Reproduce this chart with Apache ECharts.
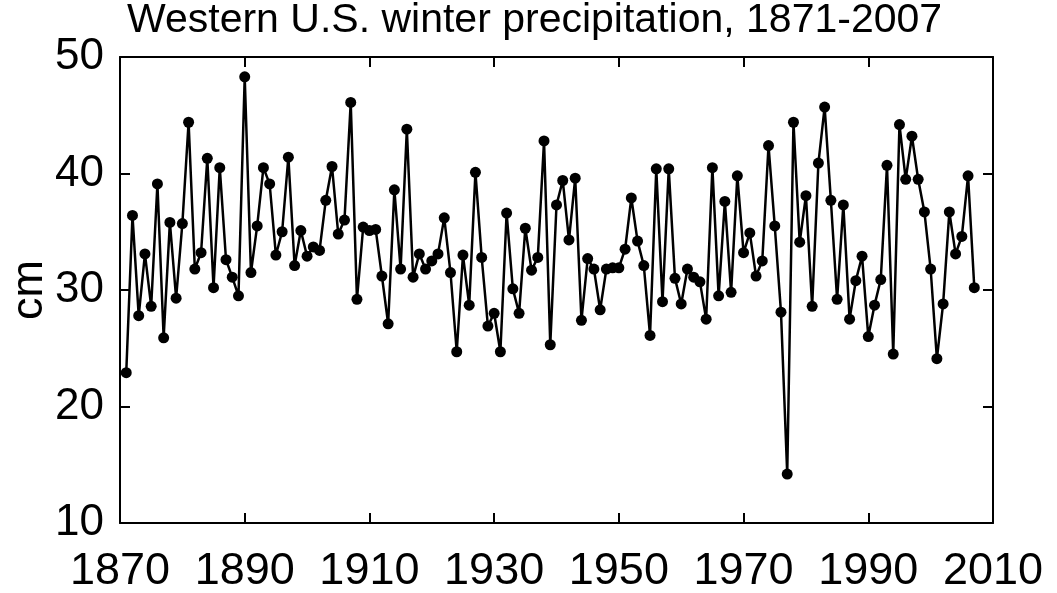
<!DOCTYPE html>
<html>
<head>
<meta charset="utf-8">
<script src="https://cdn.jsdelivr.net/npm/echarts@6/dist/echarts.min.js"></script>
<style>
  html, body { margin: 0; padding: 0; background: #fff; }
  #chart { width: 1057px; height: 593px; }
</style>
</head>
<body>
<div id="chart"></div>
<script>
// winter precipitation (cm), one value per year starting 1871
const startYear = 1871
const precip = [
  22.9, 36.4, 27.8, 33.1, 28.6, 39.1, 25.9, 35.8, 29.3, 35.7,
  44.4, 31.8, 33.2, 41.3, 30.2, 40.5, 32.6, 31.1, 29.5, 48.3,
  31.5, 35.5, 40.5, 39.1, 33.0, 35.0, 41.4, 32.1, 35.1, 32.9,
  33.7, 33.4, 37.7, 40.6, 34.8, 36.0, 46.1, 29.2, 35.4, 35.1,
  35.2, 31.2, 27.1, 38.6, 31.8, 43.8, 31.1, 33.1, 31.8, 32.5,
  33.1, 36.2, 31.5, 24.7, 33.0, 28.7, 40.1, 32.8, 26.9, 28.0,
  24.7, 36.6, 30.1, 28.0, 35.3, 31.7, 32.8, 42.8, 25.3, 37.3,
  39.4, 34.3, 39.6, 27.4, 32.7, 31.8, 28.3, 31.8, 31.9, 31.9,
  33.5, 37.9, 34.2, 32.1, 26.1, 40.4, 29.0, 40.4, 31.0, 28.8,
  31.8, 31.1, 30.7, 27.5, 40.5, 29.5, 37.6, 29.8, 39.8, 33.2,
  34.9, 31.2, 32.5, 42.4, 35.5, 28.1, 14.2, 44.4, 34.1, 38.1,
  28.6, 40.9, 45.7, 37.7, 29.2, 37.3, 27.5, 30.8, 32.9, 26.0,
  28.7, 30.9, 40.7, 24.5, 44.2, 39.5, 43.2, 39.5, 36.7, 31.8,
  24.1, 28.8, 36.7, 33.1, 34.6, 39.8, 30.2
]
const years = precip.map((v, i) => startYear + i)
const xTicks = { min: 1870, max: 2010, interval: 20 }
const yTicks = { min: 10, max: 50, interval: 10 }

const font = "'Liberation Sans', Arial, sans-serif"
const chart = echarts.init(document.getElementById('chart'), null, { renderer: 'canvas' })

const lineStyle = { color: '#000', width: 2 }
const axisBase = {
  type: 'value',
  axisLine: { show: true, onZero: false, lineStyle },
  axisTick: { show: true, inside: true, length: 10, lineStyle },
  splitLine: { show: false }
}
const plain = v => String(v)

chart.setOption({
  animation: false,
  backgroundColor: '#fff',
  title: {
    text: 'Western U.S. winter precipitation, 1871-2007',
    left: 122,
    top: -5,
    textStyle: { fontFamily: font, fontSize: 41, fontWeight: 'normal', color: '#000' }
  },
  grid: { left: 120, right: 64, top: 57, bottom: 70, containLabel: false, outerBoundsMode: 'none' },
  xAxis: [
    Object.assign({}, axisBase, {
      position: 'bottom',
      min: xTicks.min, max: xTicks.max, interval: xTicks.interval,
      axisLabel: { fontFamily: font, fontSize: 45, color: '#000', margin: 26, formatter: plain }
    }),
    Object.assign({}, axisBase, {
      position: 'top',
      min: xTicks.min, max: xTicks.max, interval: xTicks.interval,
      axisLabel: { show: false }
    })
  ],
  yAxis: [
    Object.assign({}, axisBase, {
      position: 'left',
      min: yTicks.min, max: yTicks.max, interval: yTicks.interval,
      name: 'cm',
      nameLocation: 'middle',
      nameGap: 68,
      nameMoveOverlap: false,
      nameTextStyle: { fontFamily: font, fontSize: 45, color: '#000' },
      axisLabel: { fontFamily: font, fontSize: 44, color: '#000', margin: 16, formatter: plain }
    }),
    Object.assign({}, axisBase, {
      position: 'right',
      min: yTicks.min, max: yTicks.max, interval: yTicks.interval,
      axisLabel: { show: false }
    })
  ],
  series: [{
    type: 'line',
    xAxisIndex: 0,
    yAxisIndex: 0,
    data: years.map((y, i) => [y, precip[i]]),
    symbol: 'circle',
    symbolSize: 11,
    showAllSymbol: true,
    itemStyle: { color: '#000' },
    lineStyle: { color: '#000', width: 2.5 }
  }]
})
</script>
</body>
</html>
